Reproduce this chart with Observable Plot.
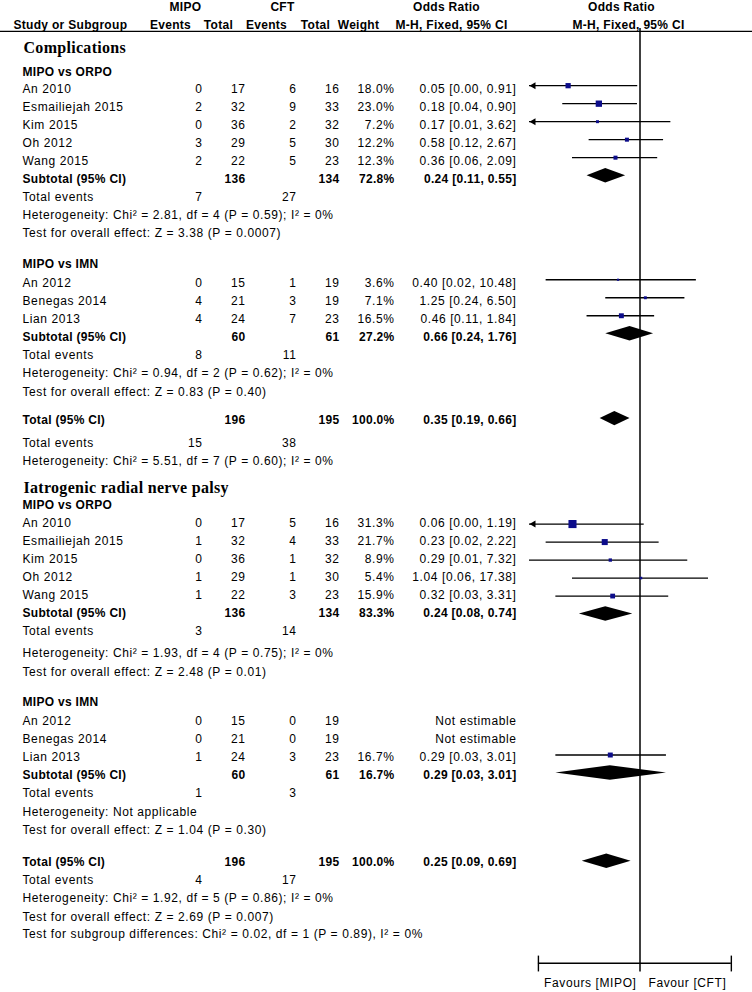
<!DOCTYPE html>
<html><head><meta charset="utf-8">
<script src="https://cdn.jsdelivr.net/npm/d3@7"></script>
<script src="https://cdn.jsdelivr.net/npm/@observablehq/plot@0.6"></script>
<style>
html,body{margin:0;padding:0;background:#fff;}
#chart svg{display:block;background:#fff;}
#chart g[aria-label="text"][font-weight="normal"]{letter-spacing:0.6px;}
#chart g[aria-label="text"][font-weight="bold"]{letter-spacing:0.3px;}
</style></head><body><div id="chart"></div>
<script>
// ---------------- data ----------------
// [study, MIPO events, MIPO total, CFT events, CFT total, weight %, OR, CI low, CI high]
const compORPO = [
  ["An 2010", 0, 17, 6, 16, 18.0, 0.05, 0.00, 0.91],
  ["Esmailiejah 2015", 2, 32, 9, 33, 23.0, 0.18, 0.04, 0.90],
  ["Kim 2015", 0, 36, 2, 32, 7.2, 0.17, 0.01, 3.62],
  ["Oh 2012", 3, 29, 5, 30, 12.2, 0.58, 0.12, 2.67],
  ["Wang 2015", 2, 22, 5, 23, 12.3, 0.36, 0.06, 2.09]
];
const compIMN = [
  ["An 2012", 0, 15, 1, 19, 3.6, 0.40, 0.02, 10.48],
  ["Benegas 2014", 4, 21, 3, 19, 7.1, 1.25, 0.24, 6.50],
  ["Lian 2013", 4, 24, 7, 23, 16.5, 0.46, 0.11, 1.84]
];
const nerveORPO = [
  ["An 2010", 0, 17, 5, 16, 31.3, 0.06, 0.00, 1.19],
  ["Esmailiejah 2015", 1, 32, 4, 33, 21.7, 0.23, 0.02, 2.22],
  ["Kim 2015", 0, 36, 1, 32, 8.9, 0.29, 0.01, 7.32],
  ["Oh 2012", 1, 29, 1, 30, 5.4, 1.04, 0.06, 17.38],
  ["Wang 2015", 1, 22, 3, 23, 15.9, 0.32, 0.03, 3.31]
];
const nerveIMN = [
  ["An 2012", 0, 15, 0, 19, null, null, null, null],
  ["Benegas 2014", 0, 21, 0, 19, null, null, null, null],
  ["Lian 2013", 1, 24, 3, 23, 16.7, 0.29, 0.03, 3.01]
];
// studies whose lower CI runs past the left edge (drawn with an arrow)
const compClipped = ["An 2010", "Kim 2015"];
const nerveClipped = ["An 2010"];
// [subgroup, MIPO total, CFT total, weight, OR, low, high, MIPO events, CFT events, heterogeneity, overall effect]
const compSub = [
  ["MIPO vs ORPO", 136, 134, 72.8, 0.24, 0.11, 0.55, 7, 27, "Chi² = 2.81, df = 4 (P = 0.59); I² = 0%", "Z = 3.38 (P = 0.0007)"],
  ["MIPO vs IMN", 60, 61, 27.2, 0.66, 0.24, 1.76, 8, 11, "Chi² = 0.94, df = 2 (P = 0.62); I² = 0%", "Z = 0.83 (P = 0.40)"]
];
const nerveSub = [
  ["MIPO vs ORPO", 136, 134, 83.3, 0.24, 0.08, 0.74, 3, 14, "Chi² = 1.93, df = 4 (P = 0.75); I² = 0%", "Z = 2.48 (P = 0.01)"],
  ["MIPO vs IMN", 60, 61, 16.7, 0.29, 0.03, 3.01, 1, 3, "Not applicable", "Z = 1.04 (P = 0.30)"]
];
// [MIPO total, CFT total, weight, OR, low, high, MIPO events, CFT events, heterogeneity, overall effect, subgroup differences]
const compTotal = [196, 195, 100.0, 0.35, 0.19, 0.66, 15, 38, "Chi² = 5.51, df = 7 (P = 0.60); I² = 0%", null, null];
const nerveTotal = [196, 195, 100.0, 0.25, 0.09, 0.69, 4, 17, "Chi² = 1.92, df = 5 (P = 0.86); I² = 0%", "Z = 2.69 (P = 0.007)", "Chi² = 0.02, df = 1 (P = 0.89), I² = 0%"];
const sectionTitles = ["Complications", "Iatrogenic radial nerve palsy"];
const groupHeaders = ["MIPO", "CFT", "Odds Ratio", "Odds Ratio"];
const columnHeaders = ["Study or Subgroup", "Events", "Total", "Events", "Total", "Weight", "M-H, Fixed, 95% CI", "M-H, Fixed, 95% CI"];
const favourLabels = ["Favours [MIPO]", "Favour [CFT]"];
const axisTicks = [0.0145, 1, 45];
const xDomain = [0.01, 100];

// ---------------- layout ----------------
const U = 18, Y0 = 25;
const COL = {label: 22, me: 202, mt: 245, ce: 296, ct: 339, w: 394, or: 516};
const items = [], ciRows = [], diamondPts = [];
let y = 0;
const pct = w => w.toFixed(1) + "%";
const orTxt = (o, l, h) => `${o.toFixed(2)} [${l.toFixed(2)}, ${h.toFixed(2)}]`;
function put(yy, x, anchor, text, style) { items.push({y: yy, x, anchor, text: String(text), style}); }
function row(cells, style) {
  for (const [k, v] of Object.entries(cells)) if (v != null) put(y, COL[k], k === "label" ? "start" : "end", v, style);
}
let did = 0;
function diamond(o, l, h, off) {
  const gy = y + off / U, id = did++;
  diamondPts.push({id, x: l, y1: gy, y2: gy}, {id, x: o, y1: gy - 0.4, y2: gy + 0.4}, {id, x: h, y1: gy, y2: gy});
}
function section(title, groups, subs, tot, clipped, g) {
  y += g.title; put(y, 23, "start", title, "serif");
  groups.forEach((studies, i) => {
    const s = subs[i];
    y += g.head[i]; row({label: s[0]}, "bold");
    studies.forEach((st, j) => {
      y += j === 0 ? g.first[i] : 1;
      const [name, me, mt, ce, ct, w, o, l, h] = st;
      row({label: name, me, mt, ce, ct, w: w == null ? null : pct(w), or: o == null ? "Not estimable" : orTxt(o, l, h)}, "reg");
      if (o != null) ciRows.push({y: y + g.off[i] / U, w, o, l, h, arrow: clipped.includes(name)});
    });
    y += 1; row({label: "Subtotal (95% CI)", mt: s[1], ct: s[2], w: pct(s[3]), or: orTxt(s[4], s[5], s[6])}, "bold");
    diamond(s[4], s[5], s[6], g.off[i]);
    y += 1; row({label: "Total events", me: s[7], ce: s[8]}, "reg");
    y += g.het[i]; row({label: "Heterogeneity: " + s[9]}, "reg");
    y += g.test; row({label: "Test for overall effect: " + s[10]}, "reg");
  });
  y += g.total; row({label: "Total (95% CI)", mt: tot[0], ct: tot[1], w: pct(tot[2]), or: orTxt(tot[3], tot[4], tot[5])}, "bold");
  diamond(tot[3], tot[4], tot[5], g.offT);
  y += g.tev; row({label: "Total events", me: tot[6], ce: tot[7]}, "reg");
  y += 1; row({label: "Heterogeneity: " + tot[8]}, "reg");
  if (tot[9]) { y += 1.05; row({label: "Test for overall effect: " + tot[9]}, "reg"); }
  if (tot[10]) { y += 0.95; row({label: "Test for subgroup differences: " + tot[10]}, "reg"); }
}
// headers
[[185, 0], [282, 1], [446, 2], [621, 3]].forEach(([x, i]) => put(-1, x, "middle", groupHeaders[i], "bold"));
put(0, 13, "start", columnHeaders[0], "bold");
[[170, 1], [218, 2], [266, 3], [315, 4], [358, 5], [451, 6], [628, 7]].forEach(([x, i]) => put(0, x, "middle", columnHeaders[i], "bold"));

section(sectionTitles[0], [compORPO, compIMN], compSub, compTotal, compClipped,
  {title: 1.22, head: [1.39, 1.7], first: [0.9, 1.08], het: [1, 1], test: 1.03, total: 1.6, tev: 1.28, off: [-3, -3.5], offT: -2});
section(sectionTitles[1], [nerveORPO, nerveIMN], nerveSub, nerveTotal, nerveClipped,
  {title: 1.44, head: [1, 1.67], first: [1, 1.05], het: [1.22, 1.05], test: 1.03, total: 1.78, tev: 1, off: [0.5, -2], offT: -1.3});
const axisY = y + 1.6;

// ---------------- marks ----------------
const SANS = "Liberation Sans, Arial, Helvetica, sans-serif";
const STY = {
  reg: {fontFamily: SANS, fontSize: 12, fontWeight: "normal"},
  bold: {fontFamily: SANS, fontSize: 12, fontWeight: "bold"},
  serif: {fontFamily: "Liberation Serif, Times New Roman, serif", fontSize: 16, fontWeight: "bold"}
};
const textMarks = d3.groups(items, d => `${d.x}|${d.anchor}|${d.style}`).map(([, arr]) =>
  Plot.text(arr, {y: "y", text: "text", frameAnchor: "left", dx: arr[0].x, textAnchor: arr[0].anchor, fill: "black", ...STY[arr[0].style]}));

const chart = Plot.plot({
  width: 752, height: 992, margin: 0,
  x: {type: "log", domain: xDomain, range: [529, 750], axis: null},
  y: {type: "linear", domain: [0, 1], range: [Y0, Y0 + U], axis: null},
  r: {type: "linear", domain: [0, 35], range: [0.8, 5]},
  style: {background: "#fff", color: "black"},
  marks: [
    Plot.ruleY([0.33], {stroke: "black", strokeWidth: 1.3}),
    Plot.ruleX([axisTicks[1]], {y1: 0.17, y2: axisY + 0.48, stroke: "black", strokeWidth: 1.5}),
    Plot.ruleY([axisY], {x1: axisTicks[0], x2: axisTicks[2], stroke: "black", strokeWidth: 1.4}),
    Plot.ruleX([axisTicks[0], axisTicks[2]], {y1: axisY - 0.4, y2: axisY + 0.48, stroke: "black", strokeWidth: 1.4}),
    Plot.ruleY(ciRows, {y: "y", x1: d => Math.max(d.l, xDomain[0]), x2: "h", stroke: "black", strokeWidth: 1.3}),
    Plot.dot(ciRows.filter(d => d.arrow), {x: () => xDomain[0], y: "y", symbol: "triangle", r: 2.6, rotate: -90, dx: 4, fill: "black", stroke: "none"}),
    Plot.dot(ciRows, {x: "o", y: "y", r: "w", symbol: "square", fill: "#0c0c8a", stroke: "none"}),
    Plot.areaY(diamondPts, {x: "x", y1: "y1", y2: "y2", z: "id", fill: "black"}),
    ...textMarks,
    Plot.text([favourLabels[0]], {x: axisTicks[1], y: () => axisY + 1.1, text: d => d, textAnchor: "end", dx: -3.5, fill: "black", ...STY.reg}),
    Plot.text([favourLabels[1]], {x: axisTicks[1], y: () => axisY + 1.1, text: d => d, textAnchor: "start", dx: 8.5, fill: "black", ...STY.reg})
  ]
});
document.getElementById("chart").appendChild(chart);
</script></body></html>
